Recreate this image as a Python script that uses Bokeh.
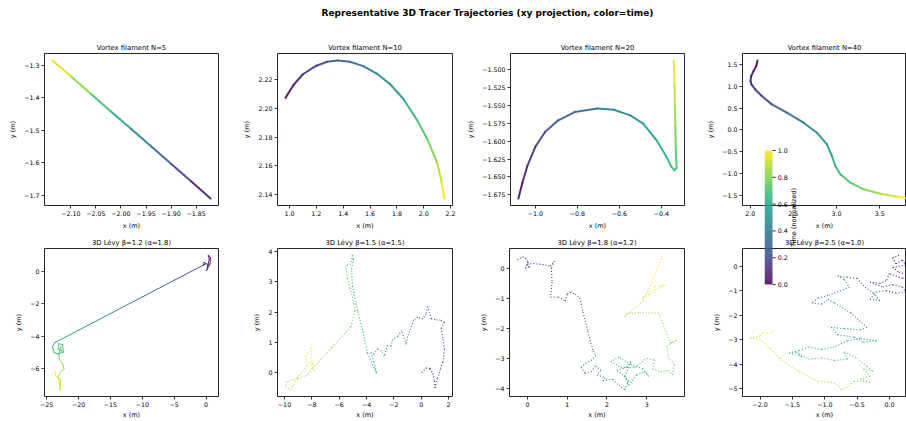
import numpy as np
from bokeh.plotting import figure
from bokeh.layouts import column, row
from bokeh.models import (ColumnDataSource, Range1d, FixedTicker, CustomJSTickFormatter,
                          LinearColorMapper, GridBox)
from bokeh.core.properties import value
from bokeh.palettes import Viridis256
from bokeh.transform import linear_cmap
from bokeh.embed import file_html
from bokeh.resources import INLINE

FONT = "DejaVu Sans"

SUPTITLE = "Representative 3D Tracer Trajectories (xy projection, color=time)"
TITLES = ["Vortex filament N=5", "Vortex filament N=10", "Vortex filament N=20", "Vortex filament N=40",
          "3D Lévy β=1.2 (α=1.8)", "3D Lévy β=1.5 (α=1.5)", "3D Lévy β=1.8 (α=1.2)", "3D Lévy β=2.5 (α=1.0)"]
CBAR_LABEL = "Time (normalized)"

# ---- Vortex filament N=5
x1 = [-1.821, -1.860, -1.900, -1.940, -1.980, -2.020, -2.060, -2.100, -2.137]
y1 = [-1.710, -1.657, -1.603, -1.549, -1.495, -1.442, -1.388, -1.334, -1.285]
t1 = [0.0, 0.123, 0.250, 0.377, 0.503, 0.630, 0.756, 0.883, 1.0]

# ---- Vortex filament N=10
x2 = [0.970, 1.030, 1.100, 1.200, 1.280, 1.360, 1.450, 1.550, 1.650, 1.750, 1.850, 1.950, 2.030, 2.100, 2.130, 2.155]
y2 = [2.2075, 2.2165, 2.2240, 2.2300, 2.2328, 2.2337, 2.2328, 2.2297, 2.2245, 2.2170, 2.2065, 2.1920, 2.1780, 2.1620, 2.1500, 2.1370]
t2 = [0.0, 0.060, 0.115, 0.178, 0.222, 0.264, 0.311, 0.366, 0.426, 0.492, 0.571, 0.669, 0.758, 0.856, 0.930, 1.0]

# ---- Vortex filament N=20
x3 = [-1.081, -1.062, -1.039, -1.000, -0.953, -0.891, -0.813, -0.704, -0.626, -0.548, -0.486, -0.423, -0.376,
      -0.353, -0.337, -0.327, -0.331, -0.333, -0.335, -0.337, -0.340]
y3 = [-1.6805, -1.6584, -1.6353, -1.6076, -1.5868, -1.5706, -1.5591, -1.5540, -1.5559, -1.5637, -1.5753, -1.5984,
      -1.6214, -1.6353, -1.6408, -1.6376, -1.6100, -1.5800, -1.5500, -1.5200, -1.4866]
t3 = [0.0, 0.047, 0.096, 0.158, 0.209, 0.259, 0.312, 0.379, 0.426, 0.476, 0.521, 0.582, 0.637, 0.668, 0.683,
      0.692, 0.748, 0.809, 0.871, 0.932, 1.0]

# ---- Vortex filament N=40
x4 = [2.085, 2.070, 2.039, 2.012, 2.004, 2.015, 2.058, 2.135, 2.251, 2.425, 2.618, 2.773, 2.889, 2.947, 2.986,
      3.044, 3.160, 3.314, 3.508, 3.700, 3.860]
y4 = [1.592, 1.462, 1.347, 1.233, 1.118, 1.042, 0.927, 0.775, 0.584, 0.393, 0.164, -0.065, -0.332, -0.599,
      -0.828, -1.019, -1.210, -1.363, -1.462, -1.530, -1.575]
t4 = [0.0, 0.025, 0.050, 0.073, 0.095, 0.110, 0.137, 0.178, 0.234, 0.307, 0.391, 0.463, 0.530, 0.585, 0.630,
      0.672, 0.728, 0.793, 0.867, 0.940, 1.0]

# ---- Levy beta=1.2
x5 = [0.21, 0.52, 0.36, 0.72, 0.62, 0.10, 0.36, -0.31, -0.41, 0.00, -5.00, -10.00, -15.00, -20.00, -23.70,
      -24.10, -23.80, -23.20, -22.40, -22.50, -23.10, -23.20, -22.70, -22.80, -23.10, -23.00, -22.50, -22.26,
      -22.80, -23.20, -22.80, -22.90, -23.10, -23.60, -23.70]
y5 = [0.24, 0.73, 0.97, 0.83, 0.44, 0.04, 0.38, 0.53, 0.38, 0.45, -0.57, -1.59, -2.61, -3.63, -4.38,
      -4.65, -5.00, -5.09, -4.97, -4.51, -4.46, -4.81, -4.91, -4.65, -5.09, -5.41, -5.70, -6.00,
      -6.18, -6.50, -6.69, -7.28, -6.59, -6.44, -6.10]
t5 = [0.00, 0.01, 0.02, 0.04, 0.06, 0.08, 0.10, 0.12, 0.13, 0.14, 0.23, 0.32, 0.41, 0.50, 0.56,
      0.58, 0.60, 0.62, 0.64, 0.66, 0.68, 0.70, 0.72, 0.74, 0.76, 0.78, 0.80, 0.82,
      0.85, 0.88, 0.91, 0.94, 0.96, 0.98, 1.00]

# ---- Levy beta=1.5 (time = sample index)
x6 = [0.04, 0.36, 0.65, 0.85, 0.97, 1.02, 1.17, 1.34, 1.41, 1.58, 1.71, 1.58, 1.46, 1.71, 1.41, 1.02,
      0.73, 0.48, 0.36, 0.12, -0.25, -0.55,
      -0.99, -1.11, -1.43, -1.72, -2.09, -2.21, -2.46, -2.70, -2.90, -3.19, -3.44, -3.68, -3.44, -3.26, -3.93,
      -4.29, -4.66, -5.03, -5.10, -4.95, -5.03, -5.15, -5.52, -5.40, -5.20, -4.91, -4.86, -5.15,
      -6.56, -7.97, -8.33, -9.00, -9.80, -9.93, -9.56,
      -9.07, -8.33, -8.46, -8.09, -7.97, -7.80, -8.21]
y6 = [0.00, 0.15, 0.13, -0.03, -0.28, -0.51, -0.19, -0.03, 0.13, 0.34, 0.77, 1.14, 1.46, 1.67, 1.73, 1.75,
      1.78, 2.18, 1.94, 1.78, 1.83, 1.73,
      1.19, 0.93, 1.39, 1.19, 1.09, 0.87, 0.90, 0.55, 0.71, 0.79, 0.61, 0.66, 0.34, -0.03, 0.64,
      1.41, 2.05, 2.85, 3.43, 3.75, 3.88, 3.59, 3.54, 3.11, 2.79, 2.26, 2.03, 1.51,
      0.82, 0.13, -0.09, -0.20, -0.30, -0.46, -0.57,
      -0.19, 0.23, 0.55, 0.82, 0.29, 0.04, 0.39]

# ---- Levy beta=1.8 (time = sample index)
x7 = [-0.25, -0.12, -0.05, 0.02, -0.05, 0.05, 0.00, 0.15, 0.38, 0.58, 0.68, 0.60, 0.62, 0.58, 0.78, 0.95,
      1.00, 1.08, 1.20, 1.32, 1.40, 1.52, 1.65, 1.72,
      1.62, 1.48, 1.35, 1.45, 1.60, 1.72, 1.85, 1.75, 1.95, 1.90,
      2.15, 2.30, 2.45, 2.55, 2.40, 2.25, 2.50, 2.60, 2.45, 2.55,
      2.75, 2.95, 3.05, 2.90, 2.60, 2.30, 2.10, 2.35,
      2.70, 3.00, 3.20, 3.15, 3.35, 3.55, 3.65, 3.70, 3.55, 3.50, 3.65, 3.75, 3.60,
      3.30, 2.80, 2.50, 2.45, 2.60, 2.90,
      2.90, 3.10, 3.35, 3.45, 3.20, 2.95, 3.10, 3.40]
y7 = [0.30, 0.40, 0.35, 0.22, 0.02, 0.05, 0.15, 0.17, 0.14, 0.09, 0.25, 0.02, -0.45, -0.95, -0.95, -1.08,
      -0.85, -0.78, -0.85, -0.98, -1.45, -2.10, -2.75, -2.90,
      -3.05, -3.15, -3.30, -3.50, -3.45, -3.25, -3.40, -3.55, -3.65, -3.75,
      -3.70, -3.90, -4.05, -3.75, -3.55, -3.40, -3.30, -3.10, -3.60, -3.90,
      -3.55, -3.45, -3.60, -3.35, -3.20, -2.95, -3.10, -3.30,
      -3.30, -3.00, -3.05, -3.35, -3.45, -3.40, -3.55, -3.20, -3.00, -2.60, -2.45, -2.40, -2.50,
      -1.48, -1.47, -1.50, -1.60, -1.42, -1.10,
      -0.95, -0.85, -0.60, -0.55, -0.60, -0.95, -0.55, 0.45]

# ---- Levy beta=2.5 (time = sample index)
x8 = [0.15, 0.05, 0.10, 0.20, 0.25, 0.05, 0.15, 0.30, 0.20, 0.00, -0.05,
      -0.15, -0.30, -0.10, 0.05, 0.20, 0.25, 0.10, -0.05, -0.20, -0.30, -0.15, -0.25, -0.40,
      -0.50, -0.65, -0.80, -0.70, -0.62, -0.75, -0.95, -1.10, -1.20, -1.05, -0.95, -0.85, -0.60, -0.35, -0.45,
      -0.70, -0.90, -0.80, -0.55, -0.40, -0.20, -0.45, -0.65,
      -0.85, -1.05, -1.25, -1.40, -1.55, -1.35, -1.45, -1.25, -1.05, -0.85, -0.65, -0.70, -0.50,
      -0.35, -0.25, -0.40, -0.30, -0.45, -0.30, -0.55, -0.65, -0.75, -0.80,
      -0.90, -1.10, -1.30, -1.50, -1.70, -1.85, -2.00, -2.15, -2.00, -1.95, -1.85, -1.80]
y8 = [0.45, 0.35, 0.10, 0.25, 0.05, -0.05, -0.25, -0.35, -0.50, -0.30, -0.60,
      -0.70, -0.65, -0.85, -0.75, -0.85, -1.05, -1.10, -1.00, -1.05, -1.35, -1.40, -1.10, -0.80,
      -0.50, -0.45, -0.40, -0.55, -0.85, -1.00, -1.20, -1.30, -1.50, -1.55, -1.35, -1.50, -1.90, -2.50, -2.60,
      -2.55, -2.50, -2.80, -2.90, -3.10, -3.05, -2.95, -3.05,
      -3.30, -3.40, -3.30, -3.45, -3.55, -3.70, -3.50, -3.80, -3.75, -3.85, -3.80, -3.50, -3.75,
      -4.10, -4.30, -4.20, -4.50, -4.60, -4.75, -4.70, -4.95, -5.05, -4.85,
      -4.75, -4.70, -4.45, -4.15, -3.75, -3.35, -3.00, -2.95, -2.85, -2.70, -2.75, -2.65]

# ---- tick values
xt1 = [-2.10, -2.05, -2.00, -1.95, -1.90, -1.85]
yt1 = [-1.7, -1.6, -1.5, -1.4, -1.3]
xt2 = [1.0, 1.2, 1.4, 1.6, 1.8, 2.0, 2.2]
yt2 = [2.14, 2.16, 2.18, 2.20, 2.22]
xt3 = [-1.0, -0.8, -0.6, -0.4]
yt3 = [-1.675, -1.65, -1.625, -1.6, -1.575, -1.55, -1.525, -1.5]
xt4 = [2.0, 2.5, 3.0, 3.5]
yt4 = [-1.5, -1.0, -0.5, 0.0, 0.5, 1.0, 1.5]
xt5 = [-25, -20, -15, -10, -5, 0]
yt5 = [-6, -4, -2, 0]
xt6 = [-10, -8, -6, -4, -2, 0, 2]
yt6 = [0, 1, 2, 3, 4]
xt7 = [0, 1, 2, 3]
yt7 = [-4, -3, -2, -1, 0]
xt8 = [-2.0, -1.5, -1.0, -0.5, 0.0]
yt8 = [-5, -4, -3, -2, -1, 0]
cbt = [0.0, 0.2, 0.4, 0.6, 0.8, 1.0]
X_DEC = [2, 1, 1, 1, 0, 0, 0, 1]
Y_DEC = [1, 2, 3, 1, 0, 0, 0, 0]


def index_time(x):
    n = len(x)
    return [i / (n - 1) for i in range(n)]


XS = [x1, x2, x3, x4, x5, x6, x7, x8]
YS = [y1, y2, y3, y4, y5, y6, y7, y8]
TS = [t1, t2, t3, t4, t5, index_time(x6), index_time(x7), index_time(x8)]
XT = [xt1, xt2, xt3, xt4, xt5, xt6, xt7, xt8]
YT = [yt1, yt2, yt3, yt4, yt5, yt6, yt7, yt8]


def fmt(dec):
    return CustomJSTickFormatter(code="return tick.toFixed(%d).replace('-', '\u2212');" % dec)


def padded(v):
    a, b = min(v), max(v)
    m = 0.05 * (b - a)
    return a - m, b + m


def style_axis(ax, ticks, dec, label, label_standoff):
    ax.ticker = FixedTicker(ticks=ticks)
    ax.formatter = fmt(dec)
    ax.axis_label = label
    ax.axis_label_text_font = FONT
    ax.axis_label_text_font_size = "6.5px"
    ax.axis_label_text_font_style = "normal"
    ax.axis_label_text_color = "black"
    ax.axis_label_standoff = label_standoff
    ax.major_label_text_font = FONT
    ax.major_label_text_font_size = "6.3px"
    ax.major_label_text_color = "black"
    ax.major_label_standoff = 2
    ax.major_tick_in = 0
    ax.major_tick_out = 3
    ax.minor_tick_in = 0
    ax.minor_tick_out = 0
    ax.major_tick_line_color = "black"
    ax.major_tick_line_width = 0.8
    ax.axis_line_color = None


def panel(i, width, left, right, height, top, bottom, x_end=None):
    x, y, t = XS[i], YS[i], TS[i]
    x0, x1_ = padded(x)
    if x_end is not None:
        x1_ = x_end
    y0, y1_ = padded(y)
    p = figure(width=width, height=height, x_range=Range1d(x0, x1_), y_range=Range1d(y0, y1_),
               toolbar_location=None, output_backend="svg",
               min_border_left=left, min_border_right=right, min_border_top=top, min_border_bottom=bottom)
    p.title.text = TITLES[i]
    p.title.align = "center"
    p.title.text_font = FONT
    p.title.text_font_size = "6.8px"
    p.title.text_font_style = "normal"
    p.title.text_color = "black"
    p.title.standoff = 3
    p.grid.visible = False
    p.outline_line_color = "black"
    p.outline_line_alpha = 0.85
    p.outline_line_width = 1
    style_axis(p.xaxis[0], XT[i], X_DEC[i], "x (m)", 3 if i < 4 else 1)
    style_axis(p.yaxis[0], YT[i], Y_DEC[i], "y (m)", 4)
    src = ColumnDataSource(dict(
        xs=[[x[k], x[k + 1]] for k in range(len(x) - 1)],
        ys=[[y[k], y[k + 1]] for k in range(len(y) - 1)],
        t=[(t[k] + t[k + 1]) / 2 for k in range(len(t) - 1)],
    ))
    cmap = linear_cmap("t", Viridis256, 0, 1)
    if i < 4:
        p.multi_line("xs", "ys", source=src, line_color=cmap, line_width=2, line_alpha=0.9, line_cap="round")
    elif i == 4:
        p.multi_line("xs", "ys", source=src, line_color=cmap, line_width=1, line_alpha=0.9, line_cap="round")
    else:
        p.multi_line("xs", "ys", source=src, line_color=cmap, line_width=1.2, line_alpha=0.9,
                     line_dash="1 2")
    return p


TOP_H, TOP_T, TOP_B = 202, 23, 27
BOT_H, BOT_T, BOT_B = 189, 16, 22
geo = [(232, 44, 14), (232, 45, 12), (233, 45, 13), (209, 45, 0)]
x_ends = [None, None, None, 3.81, None, None, None, 0.264]

top = [panel(i, geo[i][0], geo[i][1], geo[i][2], TOP_H, TOP_T, TOP_B, x_ends[i]) for i in range(4)]
bot = [panel(i + 4, geo[i][0], geo[i][1], geo[i][2], BOT_H, BOT_T, BOT_B, x_ends[i + 4]) for i in range(4)]

# main title (left-aligned at the start of a frame that begins where the text begins)
tf = figure(width=906, height=30, toolbar_location=None, output_backend="svg",
            x_axis_location=None, y_axis_location=None,
            min_border_left=321, min_border_right=0, min_border_top=18, min_border_bottom=0)
tf.title.text = SUPTITLE
tf.title.align = "left"
tf.title.text_font = FONT
tf.title.text_font_size = "9px"
tf.title.text_font_style = "bold"
tf.title.text_color = "black"
tf.title.standoff = 2
tf.outline_line_color = None
tf.grid.visible = False

# colour bar: one small transparent plot (1 x-unit = 8 px) laid over the two right-hand panels
mapper = LinearColorMapper(palette=Viridis256, low=0, high=1)
CB_W, CB_H = 70, 144
cb = figure(width=CB_W, height=CB_H, x_range=Range1d(0, CB_W / 8), y_range=Range1d(-5 / 134, 1 + 5 / 134),
            toolbar_location=None, output_backend="svg",
            x_axis_location=None, y_axis_location=None,
            min_border_left=0, min_border_right=0, min_border_top=0, min_border_bottom=0)
cb.image(image=[np.linspace(0, 1, 256).reshape(256, 1)], x=0, y=0, dw=1, dh=1,
         color_mapper=mapper, global_alpha=0.85)
cb.segment(x0=[1.0] * len(cbt), x1=[1.4] * len(cbt), y0=cbt, y1=cbt, line_color="black", line_width=0.8)
cb.text(x=[1.65] * len(cbt), y=cbt, text=["%.1f" % v for v in cbt], text_font=value(FONT),
        text_font_size="6.3px", text_align="left", text_baseline="middle", text_color="black")
cb.text(x=[3.65], y=[0.5], text=[CBAR_LABEL], angle=np.pi / 2, text_font=value(FONT),
        text_font_size="6.5px", text_align="center", text_baseline="middle", text_color="black")
cb.grid.visible = False
cb.outline_line_color = None
cb.background_fill_color = None
cb.border_fill_color = None

# right-hand block: N=40 and beta=2.5 panels with the colour bar overlapping both
# columns 697|764|786|834|906 -> 67,22,48,72 ; rows 30|145|232|289|421 -> 115,87,57,132
right = GridBox(
    children=[
        (top[3], 0, 0, 2, 4),
        (bot[3], 2, 0, 2, 4),
        (cb, 1, 1, 2, 2),
    ],
    cols=["67px", "22px", "48px", "72px"],
    rows=["115px", "87px", "57px", "132px"],
    spacing=0,
)

left = column(row(*top[:3]), row(*bot[:3]))
root = column(tf, row(left, right))

with open("out.html", "w", encoding="utf-8") as fh:
    fh.write(file_html(root, INLINE))
